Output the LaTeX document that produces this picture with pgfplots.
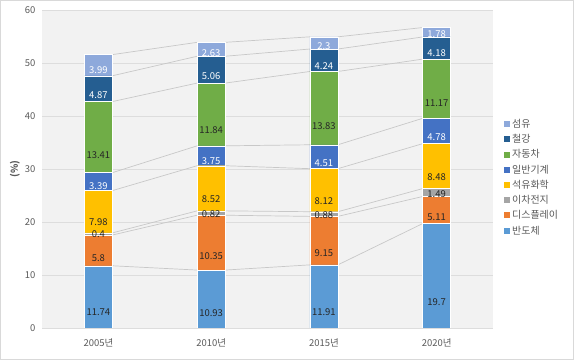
\documentclass[border=0pt]{standalone}
\usepackage{pgfplots}
\pgfplotsset{compat=1.18}
\usepackage{pgfplotstable}
\usepackage{fontspec}
\setmainfont{Noto Sans CJK KR}
\definecolor{cBan}{HTML}{5B9BD5}
\definecolor{cDis}{HTML}{ED7D31}
\definecolor{cIch}{HTML}{A5A5A5}
\definecolor{cSeok}{HTML}{FFC000}
\definecolor{cIlb}{HTML}{4472C4}
\definecolor{cJad}{HTML}{70AD47}
\definecolor{cCheol}{HTML}{255E91}
\definecolor{cSeom}{HTML}{8EA9DB}
\definecolor{bgc}{HTML}{F2F2F2}
\definecolor{gridc}{HTML}{DDDDDD}
\definecolor{labc}{HTML}{595959}
\definecolor{txtd}{HTML}{262626}
\definecolor{serl}{HTML}{C8C8C8}
\definecolor{framec}{HTML}{D9D9D9}
\pgfplotstableread{
x ban dis ich seok ilb jad cheol seom
0 11.74 5.8 0.4 7.98 3.39 13.41 4.87 3.99
1 10.93 10.35 0.82 8.52 3.75 11.84 5.06 2.63
2 11.91 9.15 0.88 8.12 4.51 13.83 4.24 2.3
3 19.7 5.11 1.49 8.48 4.78 11.17 4.18 1.78
}\data
\pgfplotsset{
 segment/.style={fill=#1, draw=white, line width=0.4bp},
 midlabel/.style={visualization depends on={\thisrow{#1} \as \rawv},
   every node near coord/.append style={shift={(axis direction cs:0,-\rawv/4)}}},
}
\begin{document}
\begin{tikzpicture}
\draw[color=framec, line width=0.8bp] (0.4bp,0.4bp) rectangle (573.6bp,359.6bp);
\begin{axis}[
 at={(42bp,32bp)}, anchor=south west, scale only axis, width=451bp, height=318bp,
 xmin=-0.5, xmax=3.5, ymin=0, ymax=60, ytick={0,10,...,60},
 xtick={0,1,2,3}, xticklabels={2005년,2010년,2015년,2020년},
 ymajorgrids, grid style={color=gridc, line width=0.8bp},
 axis line style={draw=none}, major tick length=0,
 axis background/.style={fill=bgc},
 tick label style={font=\fontsize{9.5}{11}\selectfont, text=labc},
 /pgf/number format/assume math mode=true,
 xticklabel style={yshift=-7bp},
 yticklabel style={xshift=-3bp},
 ylabel={(\%)}, ylabel style={font=\fontsize{9.5}{11}\selectfont\bfseries, text=labc, at={(rel axis cs:-0.06,0.5)}, anchor=center},
 unbounded coords=jump,
]
\addplot[serl, line width=0.7bp, forget plot] coordinates {(0.124,11.74) (0.876,10.93) (1,nan) (1.124,10.93) (1.876,11.91) (2,nan) (2.124,11.91) (2.876,19.70)};
\addplot[serl, line width=0.7bp, forget plot] coordinates {(0.124,17.54) (0.876,21.28) (1,nan) (1.124,21.28) (1.876,21.06) (2,nan) (2.124,21.06) (2.876,24.81)};
\addplot[serl, line width=0.7bp, forget plot] coordinates {(0.124,17.94) (0.876,22.10) (1,nan) (1.124,22.10) (1.876,21.94) (2,nan) (2.124,21.94) (2.876,26.30)};
\addplot[serl, line width=0.7bp, forget plot] coordinates {(0.124,25.92) (0.876,30.62) (1,nan) (1.124,30.62) (1.876,30.06) (2,nan) (2.124,30.06) (2.876,34.78)};
\addplot[serl, line width=0.7bp, forget plot] coordinates {(0.124,29.31) (0.876,34.37) (1,nan) (1.124,34.37) (1.876,34.57) (2,nan) (2.124,34.57) (2.876,39.56)};
\addplot[serl, line width=0.7bp, forget plot] coordinates {(0.124,42.72) (0.876,46.21) (1,nan) (1.124,46.21) (1.876,48.40) (2,nan) (2.124,48.40) (2.876,50.73)};
\addplot[serl, line width=0.7bp, forget plot] coordinates {(0.124,47.59) (0.876,51.27) (1,nan) (1.124,51.27) (1.876,52.64) (2,nan) (2.124,52.64) (2.876,54.91)};
\addplot[serl, line width=0.7bp, forget plot] coordinates {(0.124,51.58) (0.876,53.90) (1,nan) (1.124,53.90) (1.876,54.94) (2,nan) (2.124,54.94) (2.876,56.69)};
\end{axis}
\begin{axis}[
 at={(42bp,32bp)}, anchor=south west, scale only axis, width=451bp, height=318bp,
 xmin=-0.5, xmax=3.5, ymin=0, ymax=60, hide axis,
 ybar stacked, bar width=0.248,
 point meta=explicit symbolic,
 nodes near coords,
 nodes near coords style={font=\fontsize{9.5}{11}\selectfont, anchor=center, text=txtd},
 reverse legend,
 legend style={at={(1.0244,0.6635)}, anchor=north west, draw=none, fill=none, inner sep=0pt,
   font=\fontsize{10}{12}\selectfont, text=labc, row sep=1.5bp, column sep=0pt,
   cells={anchor=west}},
 legend image code/.code={\fill[#1, draw=none] (0bp,-3bp) rectangle (6bp,3bp);},
]
\addplot[segment=cBan, midlabel=ban] table[x=x, y=ban, meta=ban]{\data};
\addplot[segment=cDis, midlabel=dis] table[x=x, y=dis, meta=dis]{\data};
\addplot[segment=cIch, midlabel=ich] table[x=x, y=ich, meta=ich]{\data};
\addplot[segment=cSeok, midlabel=seok] table[x=x, y=seok, meta=seok]{\data};
\addplot[segment=cIlb, midlabel=ilb, every node near coord/.append style={text=white}] table[x=x, y=ilb, meta=ilb]{\data};
\addplot[segment=cJad, midlabel=jad] table[x=x, y=jad, meta=jad]{\data};
\addplot[segment=cCheol, midlabel=cheol, every node near coord/.append style={text=white}] table[x=x, y=cheol, meta=cheol]{\data};
\addplot[segment=cSeom, midlabel=seom, every node near coord/.append style={text=white}] table[x=x, y=seom, meta=seom]{\data};
\legend{반도체,디스플레이,이차전지,석유화학,일반기계,자동차,철강,섬유}
\end{axis}
\end{tikzpicture}
\end{document}
